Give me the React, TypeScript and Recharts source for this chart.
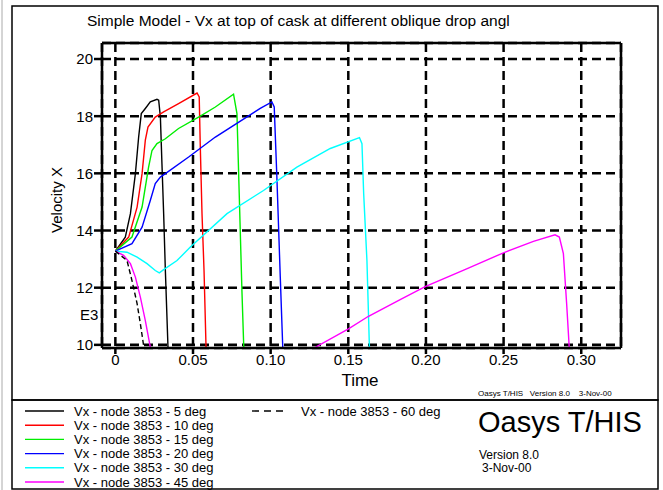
import { LineChart, Line, XAxis, YAxis, CartesianGrid } from 'recharts';

const FONT = '"Liberation Sans", Arial, Helvetica, sans-serif';

// time (s), velocity x (E3) for each drop angle
const deg5: [number, number | null][] = [
  [0, 13.28], [0.0064, 13.77], [0.0097, 14.59], [0.0129, 15.99], [0.015, 17.27],
  [0.0167, 18.09], [0.0193, 18.27], [0.0225, 18.5], [0.0268, 18.59], [0.0279, 18.56],
  [0.029, 17.97], [0.03, 16.34], [0.0311, 14.59], [0.0322, 12.6], [0.0339, 9.9],
];
const deg10: [number, number | null][] = [
  [0, 13.28], [0.0086, 13.77], [0.014, 14.82], [0.0172, 15.99], [0.0193, 17.16],
  [0.021, 17.62], [0.0257, 17.97], [0.0311, 18.15], [0.0407, 18.44], [0.0526, 18.81],
  [0.054, 18.67], [0.0547, 16.92], [0.0558, 14.59], [0.0571, 12.6], [0.0584, 9.9],
];
const deg15: [number, number | null][] = [
  [0, 13.28], [0.0107, 13.77], [0.0172, 14.82], [0.0214, 16.22], [0.0236, 16.8],
  [0.0268, 17.04], [0.0322, 17.21], [0.0407, 17.57], [0.0536, 17.97], [0.0644, 18.32],
  [0.0761, 18.77], [0.0783, 18.09], [0.08, 14.82], [0.0815, 11.9], [0.0827, 9.9],
];
const deg20: [number, number | null][] = [
  [0, 13.28], [0.0107, 13.54], [0.0172, 14.12], [0.0225, 15.05], [0.0257, 15.64],
  [0.029, 15.87], [0.0322, 15.99], [0.0472, 16.57], [0.0644, 17.27], [0.0933, 18.27],
  [0.1008, 18.5], [0.1023, 18.32], [0.104, 15.87], [0.1062, 12.37], [0.1078, 9.9],
];
const deg30: [number, number | null][] = [
  [0, 13.28], [0.0075, 13.24], [0.014, 13.07], [0.0204, 12.84], [0.0257, 12.6],
  [0.0283, 12.52], [0.0311, 12.63], [0.0397, 12.95], [0.0483, 13.42], [0.0719, 14.59],
  [0.0954, 15.4], [0.1169, 16.22], [0.1384, 16.87], [0.1572, 17.25], [0.1588, 17.04],
  [0.1599, 15.29], [0.162, 12.95], [0.1636, 9.9],
];
const deg45: [number, number | null][] = [
  [0, 13.28], [0.0053, 13.13], [0.0097, 12.84], [0.0129, 12.37], [0.0161, 11.67],
  [0.0193, 10.85], [0.0225, 9.92], [0.07, null], [0.1276, 9.88], [0.1501, 10.56],
  [0.163, 11.0], [0.1834, 11.58], [0.1995, 12.04], [0.2262, 12.66], [0.2499, 13.22],
  [0.2692, 13.62], [0.2831, 13.85], [0.2859, 13.77], [0.2885, 13.19], [0.2906, 11.44],
  [0.2923, 9.88],
];
const deg60: [number, number | null][] = [
  [0, 13.28], [0.0075, 12.95], [0.0107, 12.25], [0.014, 11.44], [0.0161, 10.74], [0.0184, 9.9],
];

const xTicks = [0, 0.05, 0.1, 0.15, 0.2, 0.25, 0.3];
const yTicks = [10, 12, 14, 16, 18, 20];

const series = [
  { name: 'Vx - node 3853 - 5 deg', color: '#000000', pts: deg5, dash: undefined },
  { name: 'Vx - node 3853 - 10 deg', color: '#ff0000', pts: deg10, dash: undefined },
  { name: 'Vx - node 3853 - 15 deg', color: '#00ee00', pts: deg15, dash: undefined },
  { name: 'Vx - node 3853 - 20 deg', color: '#0000ff', pts: deg20, dash: undefined },
  { name: 'Vx - node 3853 - 30 deg', color: '#00ffff', pts: deg30, dash: undefined },
  { name: 'Vx - node 3853 - 45 deg', color: '#ff00ff', pts: deg45, dash: undefined },
  { name: 'Vx - node 3853 - 60 deg', color: '#000000', pts: deg60, dash: '5 3' },
];

const toRows = (pts: [number, number | null][]) => pts.map(([t, v]) => ({ t, v }));

const xFmt = (v: number) => (v === 0 ? '0' : v.toFixed(2));

const axisStyle = { stroke: '#000', strokeWidth: 2.5 };

export default function App() {
  return (
    <div style={{ position: 'absolute', left: 0, top: 0, width: 663, height: 490, background: '#fff', fontFamily: FONT }}>
      <LineChart width={663} height={490} margin={{ top: 33, right: 32, bottom: 102, left: 42 }}>
        <CartesianGrid stroke="#000" strokeWidth={2.5} strokeDasharray="9 5" />
        <XAxis
          xAxisId={0}
          type="number"
          dataKey="t"
          domain={[-0.0086, 0.3256]}
          allowDataOverflow
          ticks={xTicks}
          tickFormatter={xFmt}
          height={40}
          tickSize={6}
          tickMargin={0}
          axisLine={axisStyle}
          tickLine={axisStyle}
          tick={{ fill: '#000', fontSize: 15, fontFamily: FONT }}
        />
        <XAxis
          xAxisId="top"
          orientation="top"
          type="number"
          dataKey="t"
          domain={[-0.0086, 0.3256]}
          allowDataOverflow
          ticks={xTicks}
          height={10}
          tickSize={6}
          axisLine={axisStyle}
          tickLine={axisStyle}
          tick={false}
        />
        <YAxis
          yAxisId={0}
          type="number"
          domain={[9.89, 20.56]}
          allowDataOverflow
          ticks={yTicks}
          width={60}
          tickSize={8}
          tickMargin={1}
          axisLine={axisStyle}
          tickLine={axisStyle}
          tick={{ fill: '#000', fontSize: 15, fontFamily: FONT }}
        />
        <YAxis
          yAxisId="right"
          orientation="right"
          type="number"
          domain={[9.89, 20.56]}
          allowDataOverflow
          ticks={yTicks}
          width={10}
          tickSize={7}
          axisLine={axisStyle}
          tickLine={axisStyle}
          tick={false}
        />
        {series.map((s) => (
          <Line
            key={s.name}
            data={toRows(s.pts)}
            dataKey="v"
            xAxisId={0}
            yAxisId={0}
            type="linear"
            stroke={s.color}
            strokeWidth={1.4}
            strokeDasharray={s.dash}
            dot={false}
            activeDot={false}
            connectNulls={false}
            isAnimationActive={false}
          />
        ))}
      </LineChart>

      <svg width={663} height={490} style={{ position: 'absolute', left: 0, top: 0, pointerEvents: 'none' }} fontFamily={FONT}>
        {/* page frames */}
        <line x1={2} y1={0} x2={2} y2={490} stroke="#aaa" strokeWidth={1} />
        <rect x={12} y={6} width={646} height={394} fill="none" stroke="#000" strokeWidth={1.5} />
        <rect x={12} y={400} width={646} height={89} fill="none" stroke="#000" strokeWidth={1.5} />

        <text x={87} y={26} fontSize={15.5}>Simple Model - Vx at top of cask at different oblique drop angl</text>
        <text x={62} y={200} fontSize={15} textAnchor="middle" transform="rotate(-90 62 200)">Velocity X</text>
        <text x={80} y={320} fontSize={15}>E3</text>
        <text x={360} y={386} fontSize={17} textAnchor="middle">Time</text>
        <text x={478} y={396} fontSize={8}>Oasys T/HIS&#160;&#160;&#160;Version 8.0&#160;&#160;&#160;&#160;3-Nov-00</text>

        {/* legend */}
        {series.slice(0, 6).map((s, i) => (
          <g key={s.name}>
            <line x1={25} x2={64} y1={411 + i * 14.2} y2={411 + i * 14.2} stroke={s.color} strokeWidth={1.4} />
            <text x={74} y={415.5 + i * 14.2} fontSize={13}>{s.name}</text>
          </g>
        ))}
        <line x1={252} x2={284} y1={411} y2={411} stroke="#000" strokeWidth={1.4} strokeDasharray="7 5" />
        <text x={301} y={415.5} fontSize={13}>{series[6].name}</text>

        <text x={478} y={432} fontSize={29}>Oasys T/HIS</text>
        <text x={479} y={459} fontSize={12}>Version 8.0</text>
        <text x={482} y={472} fontSize={12}>3-Nov-00</text>
      </svg>
    </div>
  );
}
